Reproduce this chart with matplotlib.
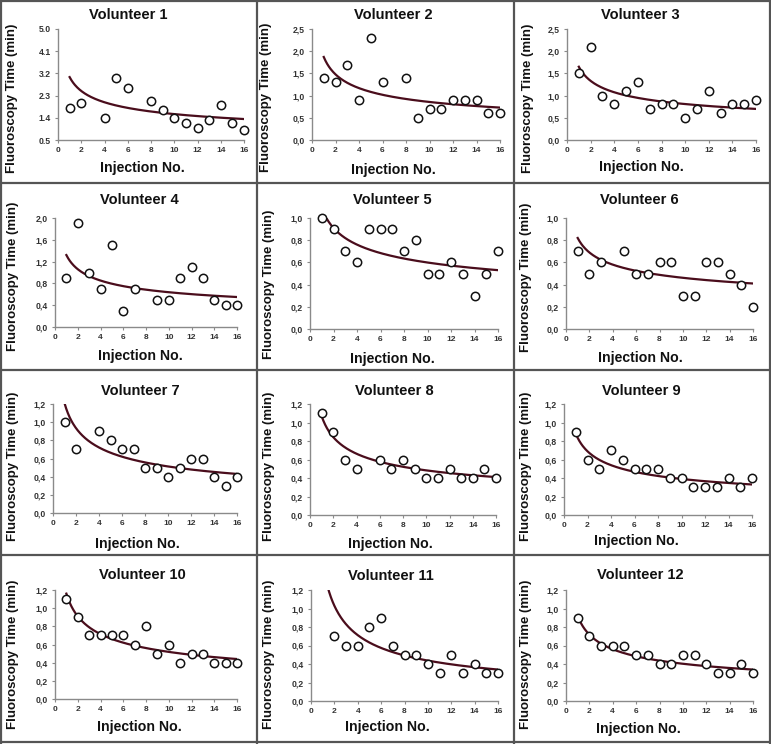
import numpy as np
import matplotlib
matplotlib.use('Agg')
import matplotlib.pyplot as plt
from matplotlib.lines import Line2D

plt.rcParams['font.family'] = ['Liberation Sans', 'DejaVu Sans']

# ---------------- data ----------------
titles = ["Volunteer %d" % i for i in range(1, 13)]

v1_x = [1, 2, 4, 5, 6, 8, 9, 10, 11, 12, 13, 14, 15, 16]
v1_y = [1.8, 2.0, 1.4, 3.0, 2.6, 2.1, 1.7, 1.4, 1.2, 1.0, 1.3, 1.9, 1.2, 0.9]
v2_x = [1, 2, 3, 4, 5, 6, 8, 9, 10, 11, 12, 13, 14, 15, 16]
v2_y = [1.4, 1.3, 1.7, 0.9, 2.3, 1.3, 1.4, 0.5, 0.7, 0.7, 0.9, 0.9, 0.9, 0.6, 0.6]
v3_x = list(range(1, 17))
v3_y = [1.5, 2.1, 1.0, 0.8, 1.1, 1.3, 0.7, 0.8, 0.8, 0.5, 0.7, 1.1, 0.6, 0.8, 0.8, 0.9]
v4_x = [1, 2, 3, 4, 5, 6, 7, 9, 10, 11, 12, 13, 14, 15, 16]
v4_y = [0.9, 1.9, 1.0, 0.7, 1.5, 0.3, 0.7, 0.5, 0.5, 0.9, 1.1, 0.9, 0.5, 0.4, 0.4]
v5_x = list(range(1, 17))
v5_y = [1.0, 0.9, 0.7, 0.6, 0.9, 0.9, 0.9, 0.7, 0.8, 0.5, 0.5, 0.6, 0.5, 0.3, 0.5, 0.7]
v6_x = [1, 2, 3, 5, 6, 7, 8, 9, 10, 11, 12, 13, 14, 15, 16]
v6_y = [0.7, 0.5, 0.6, 0.7, 0.5, 0.5, 0.6, 0.6, 0.3, 0.3, 0.6, 0.6, 0.5, 0.4, 0.2]
v7_x = [1, 2, 4, 5, 6, 7, 8, 9, 10, 11, 12, 13, 14, 15, 16]
v7_y = [1.0, 0.7, 0.9, 0.8, 0.7, 0.7, 0.5, 0.5, 0.4, 0.5, 0.6, 0.6, 0.4, 0.3, 0.4]
v8_x = [1, 2, 3, 4, 6, 7, 8, 9, 10, 11, 12, 13, 14, 15, 16]
v8_y = [1.1, 0.9, 0.6, 0.5, 0.6, 0.5, 0.6, 0.5, 0.4, 0.4, 0.5, 0.4, 0.4, 0.5, 0.4]
v9_x = list(range(1, 17))
v9_y = [0.9, 0.6, 0.5, 0.7, 0.6, 0.5, 0.5, 0.5, 0.4, 0.4, 0.3, 0.3, 0.3, 0.4, 0.3, 0.4]
v10_x = list(range(1, 17))
v10_y = [1.1, 0.9, 0.7, 0.7, 0.7, 0.7, 0.6, 0.8, 0.5, 0.6, 0.4, 0.5, 0.5, 0.4, 0.4, 0.4]
v11_x = list(range(2, 17))
v11_y = [0.7, 0.6, 0.6, 0.8, 0.9, 0.6, 0.5, 0.5, 0.4, 0.3, 0.5, 0.3, 0.4, 0.3, 0.3]
v12_x = list(range(1, 17))
v12_y = [0.9, 0.7, 0.6, 0.6, 0.6, 0.5, 0.5, 0.4, 0.4, 0.5, 0.5, 0.4, 0.3, 0.3, 0.4, 0.3]

xs_all = [v1_x, v2_x, v3_x, v4_x, v5_x, v6_x, v7_x, v8_x, v9_x, v10_x, v11_x, v12_x]
ys_all = [v1_y, v2_y, v3_y, v4_y, v5_y, v6_y, v7_y, v8_y, v9_y, v10_y, v11_y, v12_y]

# power-law trend line, read at injection 1 and injection 16
trend_at_1 = [3.05, 1.87, 1.65, 1.32, 1.09, 0.82, 1.21, 1.07, 0.88, 1.16, 1.49, 0.92]
trend_at_16 = [1.35, 0.73, 0.70, 0.55, 0.53, 0.41, 0.43, 0.41, 0.33, 0.44, 0.34, 0.34]

yticks_1 = [0.5, 1.4, 2.3, 3.2, 4.1, 5.0]
ylabels_1 = ["0.5", "1.4", "2.3", "3.2", "4.1", "5.0"]
yticks_25 = [0.0, 0.5, 1.0, 1.5, 2.0, 2.5]
ylabels_25 = ["0,0", "0,5", "1,0", "1,5", "2,0", "2,5"]
yticks_20 = [0.0, 0.4, 0.8, 1.2, 1.6, 2.0]
ylabels_20 = ["0,0", "0,4", "0,8", "1,2", "1,6", "2,0"]
yticks_10 = [0.0, 0.2, 0.4, 0.6, 0.8, 1.0]
ylabels_10 = ["0,0", "0,2", "0,4", "0,6", "0,8", "1,0"]
yticks_12 = [0.0, 0.2, 0.4, 0.6, 0.8, 1.0, 1.2]
ylabels_12 = ["0,0", "0,2", "0,4", "0,6", "0,8", "1,0", "1,2"]
xticks = [0, 2, 4, 6, 8, 10, 12, 14, 16]
xlabels = ["0", "2", "4", "6", "8", "10", "12", "14", "16"]

yt_all = [(yticks_1, ylabels_1), (yticks_25, ylabels_25), (yticks_25, ylabels_25),
          (yticks_20, ylabels_20), (yticks_10, ylabels_10), (yticks_10, ylabels_10),
          (yticks_12, ylabels_12), (yticks_12, ylabels_12), (yticks_12, ylabels_12),
          (yticks_12, ylabels_12), (yticks_12, ylabels_12), (yticks_12, ylabels_12)]

# ---------------- layout (pixels) ----------------
W, H = 771, 744
fig = plt.figure(figsize=(W / 100, H / 100), dpi=100)
fig.patch.set_facecolor('white')

axes_px = [(58, 29, 244, 140), (312, 29, 500, 140), (567, 29, 756, 140),
           (55, 218, 237, 327), (310, 218, 498, 329), (566, 218, 753, 329),
           (53, 404, 237, 513), (310, 404, 496, 515), (564, 404, 752, 515),
           (55, 590, 237, 699), (311, 590, 498, 701), (566, 590, 753, 701)]
title_px = [(128, 15), (393, 15), (640, 15),
            (139, 200), (392, 200), (639, 200),
            (140, 391), (394, 391), (641, 391),
            (142, 575), (391, 576), (640, 575)]
xlab_px = [(142, 168), (393, 170), (641, 167),
           (140, 356), (392, 359), (640, 358),
           (137, 544), (390, 544), (636, 541),
           (139, 727), (387, 727), (638, 729)]
ylab_px = [(12, 98), (266, 97), (528, 98),
           (13, 276), (269, 284), (526, 277),
           (13, 466), (269, 466), (526, 466),
           (13, 654), (269, 654), (526, 654)]

curve_color = '#4a0d1c'
spine_color = '#8a8a8a'

def fx(p):
    return p / W

def fy(p):
    return 1 - p / H

for i in range(12):
    l, t, r, b = axes_px[i]
    ax = fig.add_axes([fx(l), fy(b), (r - l) / W, (b - t) / H])
    yt, yl = yt_all[i]
    ax.set_xlim(0, 16)
    ax.set_ylim(yt[0], yt[-1])
    # trend line
    a = trend_at_1[i]
    k = np.log(trend_at_16[i] / trend_at_1[i]) / np.log(16.0)
    xc = np.linspace(1, 16, 300)
    ax.plot(xc, a * xc ** k, color=curve_color, lw=1.6, zorder=2)
    ax.plot(xs_all[i], ys_all[i], 'o', ms=6.0, mfc='white', mec='#111111',
            mew=1.1, clip_on=False, zorder=3)
    ax.set_xticks(xticks)
    ax.set_xticklabels(xlabels)
    ax.set_yticks(yt)
    ax.set_yticklabels(yl)
    for s in ['top', 'right']:
        ax.spines[s].set_visible(False)
    for s in ['left', 'bottom']:
        ax.spines[s].set_color(spine_color)
        ax.spines[s].set_linewidth(1.0)
    ax.tick_params(axis='both', length=2.5, width=0.8, color=spine_color,
                   labelcolor='#333333', pad=2.5)
    ax.tick_params(axis='x', labelsize=6.0)
    ax.tick_params(axis='y', labelsize=6.2)
    for lab in ax.get_xticklabels() + ax.get_yticklabels():
        lab.set_fontweight('bold')
    ax.set_facecolor('none')

    tx, ty = title_px[i]
    fig.text(fx(tx), fy(ty), titles[i], ha='center', va='center',
             fontsize=10.5, fontweight='bold', color='#111111')
    lx, ly = xlab_px[i]
    fig.text(fx(lx), fy(ly), "Injection No.", ha='center', va='center',
             fontsize=10.2, fontweight='bold', color='#111111')
    yx, yy = ylab_px[i]
    fig.text(fx(yx), fy(yy), "Fluoroscopy Time (min)", ha='center', va='center',
             rotation=90, fontsize=9.5, fontweight='bold', color='#111111')

# panel borders
border_c = '#555555'
for xv in [257, 514]:
    fig.add_artist(Line2D([fx(xv), fx(xv)], [0, 1], color=border_c, lw=1.6))
for yv in [183, 370, 555]:
    fig.add_artist(Line2D([0, 1], [fy(yv), fy(yv)], color=border_c, lw=1.6))
for xv in [0.5, 770]:
    fig.add_artist(Line2D([fx(xv), fx(xv)], [0, 1], color=border_c, lw=1.6))
for yv in [0.5, 742]:
    fig.add_artist(Line2D([0, 1], [fy(yv), fy(yv)], color=border_c, lw=1.6))

fig.savefig('out.png', dpi=100, facecolor='white')
